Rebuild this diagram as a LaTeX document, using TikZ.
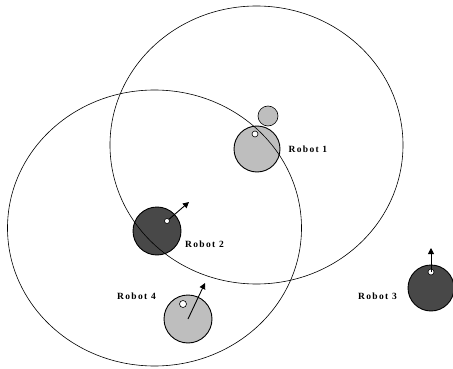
\documentclass[tikz,border=0pt]{standalone}
\usepackage{fontspec}
\setmainfont{Liberation Serif}
\newfontfamily\robotfont[LetterSpace=14]{Liberation Serif}
\usetikzlibrary{arrows.meta, positioning}
\definecolor{bodylight}{RGB}{190, 190, 190}
\definecolor{bodydark}{RGB}{72, 72, 72}
\tikzset{
  x=1pt, y=-1pt,
  robotbody/.style={circle, draw=black, line width=0.9pt, inner sep=0pt},
  robotlight/.style={robotbody, fill=bodylight},
  robotdark/.style={robotbody, fill=bodydark},
  sensordot/.style={circle, draw=black, line width=0.6pt, fill=white, inner sep=0pt, minimum size=6pt},
  robotlabel/.style={inner sep=0pt, font=\robotfont\bfseries\fontsize{9.5}{11}\selectfont},
  rangecircle/.style={draw=black, line width=0.6pt},
  heading/.style={draw=black, line width=0.9pt, -{Triangle[length=6pt, width=6pt]}}
}
\begin{document}
\begin{tikzpicture}
  \useasboundingbox (0,0) rectangle (453,369);

  % Robot 1 and its target
  \node[robotlight, minimum size=46pt] (r1) at (257,149) {};
  \node[robotlight, minimum size=20pt, line width=0.6pt] (target) at (268,116) {};
  \node[sensordot] (r1dot) at (255,134) {};
  \node[robotlabel, right=8pt of r1] (r1label) {Robot 1};

  % Robot 2
  \node[robotdark, minimum size=48pt] (r2) at (157,231) {};
  \node[sensordot, minimum size=5pt] (r2dot) at (167,221) {};
  \coordinate (r2head) at (189,202);
  \node[robotlabel, anchor=west] (r2label) at (185,244) {Robot 2};

  % Robot 3
  \node[robotdark, minimum size=46pt] (r3) at (431,288) {};
  \node[sensordot] (r3dot) at (431,272) {};
  \coordinate (r3head) at (431,248);
  \node[robotlabel, anchor=east] (r3label) at (397,296) {Robot 3};

  % Robot 4
  \node[robotlight, minimum size=48pt] (r4) at (188,319) {};
  \node[sensordot, minimum size=7pt] (r4dot) at (183,304) {};
  \coordinate (r4head) at (205,283);
  \node[robotlabel, anchor=west] (r4label) at (117,296) {Robot 4};

  % sensing ranges
  \draw[rangecircle] (256.5,145) ellipse [x radius=146.5, y radius=139];
  \draw[rangecircle] (154.5,228) ellipse [x radius=147, y radius=138];

  % headings
  \draw[heading] (r2dot) -- (r2head);
  \draw[heading] (r3dot.center) -- (r3head);
  \draw[heading] (r4.center) -- (r4head);

\end{tikzpicture}
\end{document}
